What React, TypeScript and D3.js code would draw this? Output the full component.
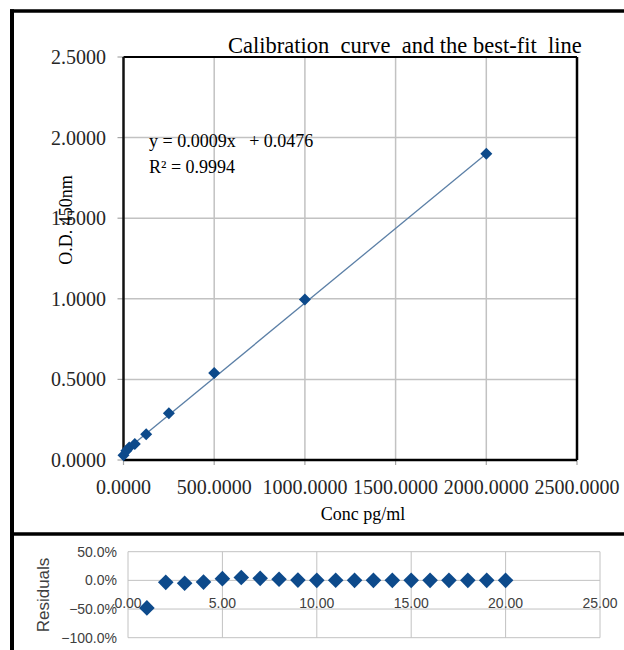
import React from "react";
import * as d3 from "d3";

// Standard curve: concentration (pg/ml) against optical density at 450 nm
const CONC = [0, 15.625, 31.25, 62.5, 125, 250, 500, 1000, 2000];
const OD = [0.03, 0.058, 0.078, 0.1, 0.16, 0.29, 0.54, 0.995, 1.9];

// Linear best-fit coefficients
const FIT_SLOPE = 0.000926;
const FIT_INTERCEPT = 0.0476;
const R_SQUARED = 0.9994;

const X_TICKS = [0, 500, 1000, 1500, 2000, 2500];
const Y_TICKS = [0, 0.5, 1, 1.5, 2, 2.5];

// Residuals per observation (fraction of predicted value)
const RES_INDEX = [1, 2, 3, 4, 5, 6, 7, 8, 9, 10, 11, 12, 13, 14, 15, 16, 17, 18, 19, 20];
const RESIDUALS = [
  -0.48, -0.035, -0.05, -0.03, 0.03, 0.05, 0.035, 0.02, 0.005, 0, 0.003, 0, 0, 0, 0, 0, 0, 0, 0, 0,
];
const RES_X_TICKS = [0, 5, 10, 15, 20, 25];
const RES_Y_TICKS = [0.5, 0, -0.5, -1];

const SERIF = "'Liberation Serif', 'Times New Roman', serif";
const SANS = "'Liberation Sans', Arial, sans-serif";
const GRID = "#c2c2c2";
const MARK = "#0d4a8b";

const diamond = (half: number) =>
  d3.symbol().type(d3.symbolDiamond2).size(Math.pow(half / 0.62625, 2))() as string;

export default function App() {
  const W = 624;
  const H = 650;

  // Upper panel scales
  const x = d3.scaleLinear().domain([0, 2500]).range([123.5, 577]);
  const y = d3.scaleLinear().domain([0, 2.5]).range([460, 57]);

  // Lower (residual) panel scales
  const rx = d3.scaleLinear().domain([0, 25]).range([128, 600]);
  const ry = d3.scaleLinear().domain([-1, 0.5]).range([637.7, 551.7]);

  const fmt4 = d3.format(".4f");
  const fmtPct = (v: number) => d3.format(".1f")(v * 100) + "%";
  const fmt2 = d3.format(".2f");

  const fitLine = d3
    .line<number>()
    .x((c) => x(c))
    .y((c) => y(FIT_SLOPE * c + FIT_INTERCEPT))([0, d3.max(CONC) as number]);

  const bigDiamond = diamond(6);
  const resDiamond = diamond(7.8);

  return (
    <svg
      width={W}
      height={H}
      style={{ position: "absolute", left: 0, top: 0, display: "block", background: "#fff" }}
    >
      <rect x={0} y={0} width={W} height={H} fill="#fff" />

      {/* ---------- Calibration panel ---------- */}
      {/* grid */}
      {X_TICKS.slice(1, -1).map((t) => (
        <line key={"gx" + t} x1={x(t)} x2={x(t)} y1={y(0)} y2={y(2.5)} stroke={GRID} strokeWidth={1.5} />
      ))}
      {Y_TICKS.slice(1, -1).map((t) => (
        <line key={"gy" + t} x1={x(0)} x2={x(2500)} y1={y(t)} y2={y(t)} stroke={GRID} strokeWidth={1.5} />
      ))}

      {/* tick marks */}
      {Y_TICKS.map((t) => (
        <line key={"ty" + t} x1={x(0) - 6} x2={x(0)} y1={y(t)} y2={y(t)} stroke="#a6a6a6" strokeWidth={1.2} />
      ))}
      {X_TICKS.map((t) => (
        <line key={"tx" + t} x1={x(t)} x2={x(t)} y1={y(0)} y2={y(0) + 5} stroke="#a6a6a6" strokeWidth={1.2} />
      ))}

      {/* plot frame */}
      <line x1={x(0)} x2={x(2500)} y1={y(2.5)} y2={y(2.5)} stroke="#000" strokeWidth={2} />
      <line x1={x(2500)} x2={x(2500)} y1={y(2.5)} y2={y(0)} stroke="#000" strokeWidth={2.5} />
      <line x1={x(0)} x2={x(2500)} y1={y(0)} y2={y(0)} stroke="#000" strokeWidth={2.5} />
      <line x1={x(0)} x2={x(0)} y1={y(2.5)} y2={y(0)} stroke="#111" strokeWidth={2.5} />

      {/* fit line */}
      <path d={fitLine ?? ""} fill="none" stroke="#5b7fa6" strokeWidth={1.3} />

      {/* standards */}
      {CONC.map((c, i) => (
        <path key={"p" + i} d={bigDiamond} transform={`translate(${x(c)},${y(OD[i])})`} fill={MARK} />
      ))}

      {/* tick labels */}
      {Y_TICKS.map((t) => (
        <text
          key={"ly" + t}
          x={106}
          y={y(t)}
          dy="0.35em"
          textAnchor="end"
          fontFamily={SERIF}
          fontSize={20}
          fill="#262626"
        >
          {fmt4(t)}
        </text>
      ))}
      {X_TICKS.map((t) => (
        <text
          key={"lx" + t}
          x={x(t)}
          y={494}
          textAnchor="middle"
          fontFamily={SERIF}
          fontSize={20}
          fill="#262626"
        >
          {fmt4(t)}
        </text>
      ))}

      {/* axis titles */}
      <text x={363} y={520} textAnchor="middle" fontFamily={SERIF} fontSize={18} fill="#000">
        Conc pg/ml
      </text>
      <text
        transform={`translate(72,220) rotate(-90)`}
        textAnchor="middle"
        fontFamily={SERIF}
        fontSize={18}
        fill="#000"
      >
        O.D. 450nm
      </text>

      {/* title */}
      <text x={228} y={53} fontFamily={SERIF} fontSize={22.5} fill="#000" style={{ whiteSpace: "pre" }}>
        {"Calibration  curve  and the best-fit  line"}
      </text>

      {/* fit equation */}
      <text x={149} y={147} fontFamily={SERIF} fontSize={18} fill="#000" style={{ whiteSpace: "pre" }}>
        {`y = ${fmt4(FIT_SLOPE)}x   + ${fmt4(FIT_INTERCEPT)}`}
      </text>
      <text x={149} y={172.5} fontFamily={SERIF} fontSize={18} fill="#000" style={{ whiteSpace: "pre" }}>
        {`R² = ${fmt4(R_SQUARED)}`}
      </text>

      {/* ---------- Residual panel ---------- */}
      {RES_X_TICKS.slice(1).map((t) => (
        <line key={"rgx" + t} x1={rx(t)} x2={rx(t)} y1={ry(0.5)} y2={ry(-1)} stroke={GRID} strokeWidth={1} />
      ))}
      {RES_Y_TICKS.map((t) => (
        <line key={"rgy" + t} x1={rx(0)} x2={rx(25)} y1={ry(t)} y2={ry(t)} stroke={GRID} strokeWidth={1} />
      ))}
      <line x1={rx(0)} x2={rx(0)} y1={ry(0.5)} y2={ry(-1)} stroke={GRID} strokeWidth={1} />

      {RES_INDEX.map((k, i) => (
        <path key={"r" + k} d={resDiamond} transform={`translate(${rx(k)},${ry(RESIDUALS[i])})`} fill={MARK} />
      ))}

      {RES_Y_TICKS.map((t) => (
        <text
          key={"rly" + t}
          x={117}
          y={ry(t)}
          dy="0.35em"
          textAnchor="end"
          fontFamily={SANS}
          fontSize={14}
          fill="#404040"
        >
          {fmtPct(t)}
        </text>
      ))}
      {RES_X_TICKS.map((t) => (
        <text
          key={"rlx" + t}
          x={rx(t)}
          y={608}
          textAnchor="middle"
          fontFamily={SANS}
          fontSize={14}
          fill="#404040"
        >
          {fmt2(t)}
        </text>
      ))}
      <text
        transform={`translate(49,595) rotate(-90)`}
        textAnchor="middle"
        fontFamily={SANS}
        fontSize={17}
        fill="#404040"
      >
        Residuals
      </text>

      {/* ---------- Outer frame ---------- */}
      <line x1={10} x2={W} y1={11} y2={11} stroke="#000" strokeWidth={3.5} />
      <line x1={12} x2={12} y1={9.25} y2={H} stroke="#000" strokeWidth={4} />
      <line x1={10} x2={W} y1={534} y2={534} stroke="#000" strokeWidth={3.5} />
    </svg>
  );
}
